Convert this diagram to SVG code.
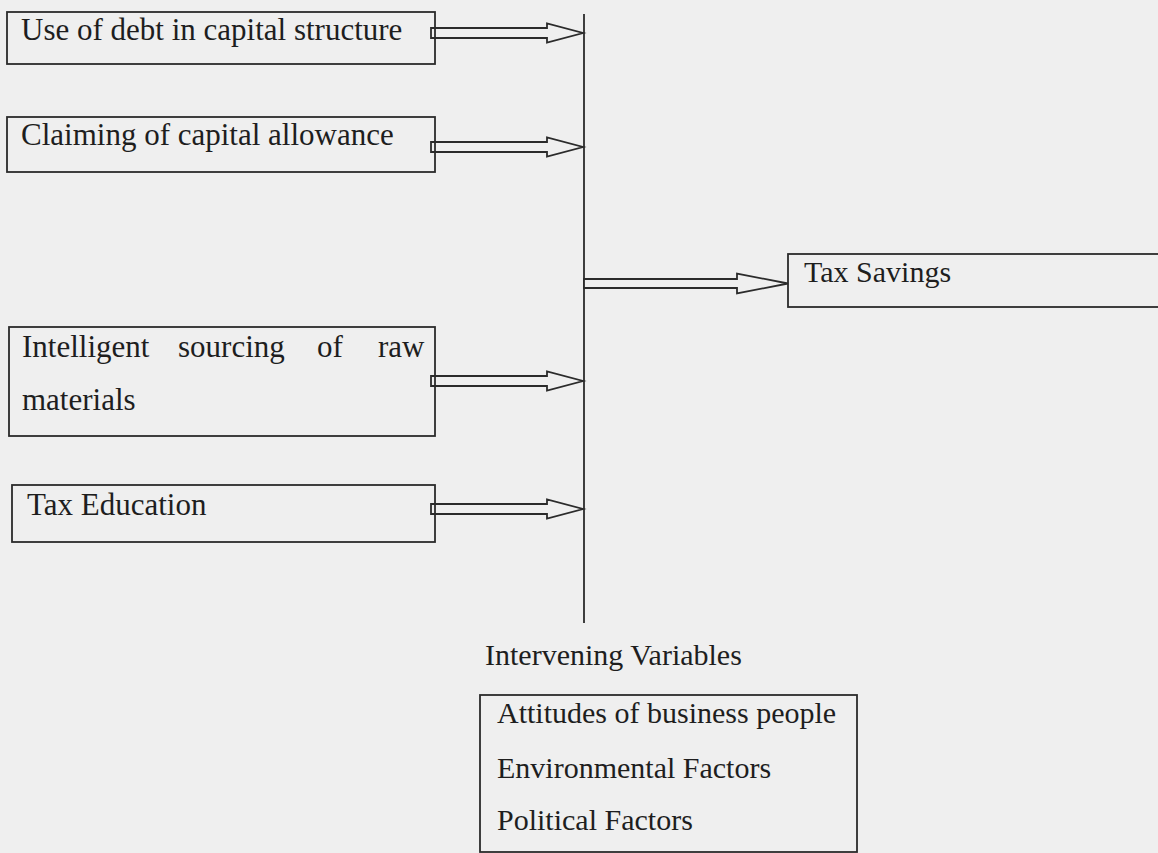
<svg xmlns="http://www.w3.org/2000/svg" xmlns:xlink="http://www.w3.org/1999/xlink" width="1158" height="853" viewBox="0 0 1158 853">
  <style>
    .box { fill: none; stroke: #2b2b2b; stroke-width: 1.8; }
    .arrow { fill: #efefef; stroke: #2b2b2b; stroke-width: 1.8; stroke-linejoin: miter; }
    .line { stroke: #2b2b2b; stroke-width: 1.8; fill: none; }
    .lbl { font-family: "Liberation Serif", "Times New Roman", serif; font-size: 31px; fill: #1e1e1e; }
    .lbl2 { font-family: "Liberation Serif", "Times New Roman", serif; font-size: 30px; fill: #1e1e1e; }
  </style>
  <defs>
    <path id="arr" d="M -152,-5 H -36 V -9.5 L 0,0 L -36,9.5 V 5 H -152 Z"/>
  </defs>
  <rect x="0" y="0" width="1158" height="853" fill="#efefef"/>

  <g id="connectors">
    <line class="line" x1="584" y1="14" x2="584" y2="623"/>
    <use href="#arr" xlink:href="#arr" class="arrow" x="583" y="33"/>
    <use href="#arr" xlink:href="#arr" class="arrow" x="583" y="147"/>
    <use href="#arr" xlink:href="#arr" class="arrow" x="583" y="381"/>
    <use href="#arr" xlink:href="#arr" class="arrow" x="583" y="509"/>
    <path class="arrow" d="M 584,279 H 737 V 273.5 L 788,283.5 L 737,293.5 V 288 H 584 Z"/>
  </g>

  <g id="node-debt">
    <rect class="box" x="7" y="12" width="428" height="52"/>
    <text class="lbl" x="21" y="40">Use of debt in capital structure</text>
  </g>

  <g id="node-capital-allowance">
    <rect class="box" x="7" y="117" width="428" height="55"/>
    <text class="lbl" x="21" y="145">Claiming of capital allowance</text>
  </g>

  <g id="node-sourcing">
    <rect class="box" x="9" y="327" width="426" height="109"/>
    <text class="lbl" y="357"><tspan x="22">Intelligent</tspan><tspan x="178">sourcing</tspan><tspan x="317">of</tspan><tspan x="378">raw</tspan></text>
    <text class="lbl" x="22" y="410">materials</text>
  </g>

  <g id="node-tax-education">
    <rect class="box" x="12" y="485" width="423" height="57"/>
    <text class="lbl" x="27" y="515">Tax Education</text>
  </g>

  <g id="node-tax-savings">
    <rect class="box" x="788" y="254" width="400" height="53"/>
    <text class="lbl2" x="804" y="282">Tax Savings</text>
  </g>

  <g id="node-intervening">
    <text class="lbl2" x="485" y="665">Intervening Variables</text>
    <rect class="box" x="480" y="695" width="377" height="157"/>
    <text class="lbl2" x="497" y="723">Attitudes of business people</text>
    <text class="lbl2" x="497" y="778">Environmental Factors</text>
    <text class="lbl2" x="497" y="830">Political Factors</text>
  </g>
</svg>
